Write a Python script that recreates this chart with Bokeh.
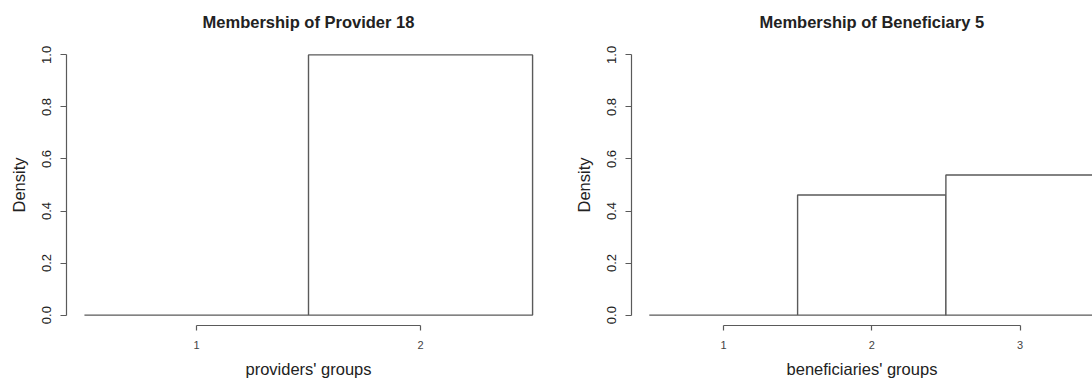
from bokeh.plotting import figure
from bokeh.layouts import row
from bokeh.models import Range1d, FixedTicker
from bokeh.embed import file_html
from bokeh.resources import INLINE

# ---- data ----
provider_groups = [1, 2]
provider_density = [0.0, 1.0]
beneficiary_groups = [1, 2, 3]
beneficiary_density = [0.0, 0.4615, 0.5385]
y_ticks = [0.0, 0.2, 0.4, 0.6, 0.8, 1.0]
y_tick_labels = ["0.0", "0.2", "0.4", "0.6", "0.8", "1.0"]
titles = ["Membership of Provider 18", "Membership of Beneficiary 5"]
xlabels = ["providers' groups", "beneficiaries' groups"]
ylabel = "Density"

FONT = "Liberation Sans"
LINE = "#5a5a5a"
TEXT = "#222222"
BIG = "16.5px"


def make_panel(title, groups, dens, xlabel, width, mbl, mbr, xr):
    p = figure(width=width, height=380, output_backend="svg", toolbar_location=None,
               x_range=Range1d(*xr), y_range=Range1d(-0.04, 1.04),
               min_border_left=mbl, min_border_right=mbr, min_border_top=44,
               min_border_bottom=55)
    p.outline_line_color = None
    p.grid.visible = False
    p.background_fill_color = "white"
    p.border_fill_color = "white"

    p.title.text = title
    p.title.text_font = FONT
    p.title.text_font_size = BIG
    p.title.text_font_style = "bold"
    p.title.text_color = TEXT
    p.title.vertical_align = "top"
    p.title.standoff = 23

    left = [g - 0.5 for g in groups]
    right = [g + 0.5 for g in groups]
    p.quad(left=left, right=right, bottom=0, top=dens,
           fill_color="white", line_color=LINE, line_width=1.4)

    ax = p.xaxis[0]
    ax.ticker = FixedTicker(ticks=groups)
    ax.bounds = (groups[0], groups[-1])
    ax.axis_line_color = LINE
    ax.axis_line_width = 1.2
    ax.major_tick_line_color = LINE
    ax.major_tick_line_width = 1.2
    ax.major_tick_in = 0
    ax.major_tick_out = 5
    ax.minor_tick_line_color = None
    ax.major_label_text_font = FONT
    ax.major_label_text_font_size = "11px"
    ax.major_label_text_color = "#444444"
    ax.major_label_standoff = 10
    ax.axis_label = xlabel
    ax.axis_label_text_font = FONT
    ax.axis_label_text_font_size = BIG
    ax.axis_label_text_font_style = "normal"
    ax.axis_label_text_color = TEXT
    ax.axis_label_standoff = 8

    ay = p.yaxis[0]
    ay.ticker = FixedTicker(ticks=y_ticks)
    ay.major_label_overrides = {t: s for t, s in zip(y_ticks, y_tick_labels)}
    ay.bounds = (0, 1)
    ay.axis_line_color = LINE
    ay.axis_line_width = 1.2
    ay.major_tick_line_color = LINE
    ay.major_tick_line_width = 1.2
    ay.major_tick_in = 0
    ay.major_tick_out = 6
    ay.minor_tick_line_color = None
    ay.major_label_orientation = "vertical"
    ay.major_label_text_font = FONT
    ay.major_label_text_font_size = "13px"
    ay.major_label_text_color = TEXT
    ay.major_label_standoff = 9
    ay.axis_label = ylabel
    ay.axis_label_text_font = FONT
    ay.axis_label_text_font_size = BIG
    ay.axis_label_text_font_style = "normal"
    ay.axis_label_text_color = TEXT
    ay.axis_label_standoff = 12
    return p


# left panel: frame fully visible
p1 = make_panel(titles[0], provider_groups, provider_density, xlabels[0],
                568, 66, 18, (0.42, 2.58))
p1.title.align = "center"

# right panel: its plot region runs past the right edge of the picture
xr2 = (0.38, 0.38 + 461 / 148.3)
p2 = make_panel(titles[1], beneficiary_groups, beneficiary_density, xlabels[1],
                524, 63, 0, xr2)
p2.title.align = "left"
p2.title.offset = 128

layout = row(p1, p2)
open("out.html", "w").write(file_html(layout, INLINE))
